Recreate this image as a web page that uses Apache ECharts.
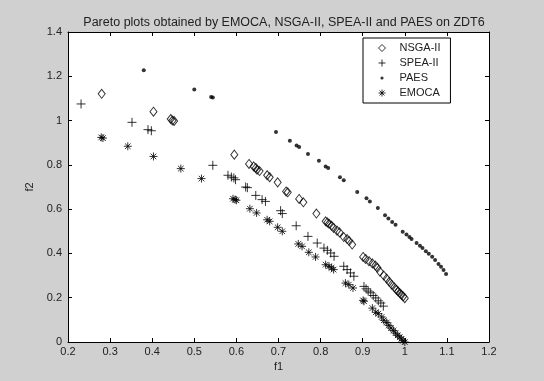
<!DOCTYPE html>
<html lang="en">
<head>
    <meta charset="utf-8"/>
    <title>Pareto plots on ZDT6</title>
    <script src="https://cdn.jsdelivr.net/npm/echarts@6/dist/echarts.min.js"></script>
</head>
<style>
    html, body { margin: 0; padding: 0; background: #d0d0d0; }
    #main { width: 544px; height: 381px; }
</style>
<body>
<div id="main"></div>
<script>
    // points, [f1, f2]
    var nsga2 = [
        [0.280, 1.121], [0.403, 1.040], [0.444, 1.007], [0.448, 1.000], [0.452, 0.998],
        [0.595, 0.846], [0.630, 0.804], [0.641, 0.793], [0.646, 0.786], [0.649, 0.778], [0.655, 0.772],
        [0.673, 0.753], [0.679, 0.744], [0.698, 0.721], [0.718, 0.680], [0.722, 0.676],
        [0.749, 0.646], [0.759, 0.631], [0.790, 0.580],
        [0.812, 0.545], [0.816, 0.540], [0.820, 0.534], [0.826, 0.525], [0.831, 0.515], [0.839, 0.503], [0.845, 0.495],
        [0.855, 0.474], [0.863, 0.465], [0.868, 0.456], [0.875, 0.440],
        [0.901, 0.384], [0.907, 0.375], [0.915, 0.365], [0.923, 0.355], [0.930, 0.345], [0.935, 0.335], [0.941, 0.318],
        [0.950, 0.300], [0.957, 0.286], [0.963, 0.272], [0.969, 0.259], [0.975, 0.247], [0.980, 0.236],
        [0.984, 0.228], [0.988, 0.221], [0.992, 0.213], [0.996, 0.206], [1.000, 0.198]
    ];
    var spea2 = [
        [0.231, 1.075], [0.352, 0.992], [0.390, 0.959], [0.398, 0.954],
        [0.544, 0.798], [0.580, 0.753], [0.588, 0.745], [0.594, 0.741], [0.598, 0.733],
        [0.622, 0.700], [0.626, 0.697], [0.646, 0.662], [0.661, 0.643], [0.669, 0.635],
        [0.705, 0.593], [0.709, 0.580], [0.742, 0.525], [0.770, 0.477], [0.792, 0.447],
        [0.808, 0.424], [0.816, 0.414], [0.824, 0.402], [0.832, 0.387],
        [0.855, 0.342], [0.863, 0.327], [0.871, 0.312], [0.879, 0.297],
        [0.903, 0.251], [0.908, 0.240], [0.913, 0.230], [0.919, 0.222], [0.925, 0.210],
        [0.931, 0.199], [0.937, 0.186], [0.943, 0.176], [0.949, 0.162]
    ];
    var paes = [
        [0.380, 1.227], [0.500, 1.140], [0.540, 1.107], [0.544, 1.104],
        [0.694, 0.948], [0.727, 0.909], [0.743, 0.887], [0.749, 0.881], [0.770, 0.849], [0.796, 0.819],
        [0.812, 0.793], [0.818, 0.786], [0.846, 0.744], [0.855, 0.730], [0.887, 0.677], [0.909, 0.649],
        [0.917, 0.635], [0.936, 0.605], [0.953, 0.572], [0.961, 0.558], [0.970, 0.542], [0.978, 0.530],
        [0.995, 0.498], [1.004, 0.485], [1.011, 0.474], [1.016, 0.465], [1.028, 0.447], [1.036, 0.435],
        [1.042, 0.424], [1.050, 0.410], [1.057, 0.399], [1.065, 0.385], [1.072, 0.370], [1.080, 0.352],
        [1.086, 0.340], [1.092, 0.325], [1.098, 0.307]
    ];
    var emoca = [
        [0.279, 0.924], [0.283, 0.921], [0.342, 0.884], [0.403, 0.838], [0.468, 0.783], [0.517, 0.738],
        [0.592, 0.647], [0.597, 0.643], [0.600, 0.640], [0.632, 0.602], [0.648, 0.583],
        [0.673, 0.552], [0.679, 0.545], [0.698, 0.518], [0.709, 0.500],
        [0.747, 0.443], [0.756, 0.432], [0.772, 0.405], [0.788, 0.384],
        [0.812, 0.349], [0.820, 0.342], [0.826, 0.335], [0.831, 0.327],
        [0.859, 0.266], [0.867, 0.259], [0.877, 0.244],
        [0.901, 0.188], [0.903, 0.184], [0.923, 0.153], [0.931, 0.134], [0.937, 0.128], [0.945, 0.113],
        [0.950, 0.098], [0.957, 0.088], [0.962, 0.075], [0.967, 0.063], [0.973, 0.052], [0.978, 0.040],
        [0.983, 0.030], [0.988, 0.022], [0.992, 0.014], [0.996, 0.006], [1.000, 0.000]
    ];
    var xTicks = [0.2, 0.3, 0.4, 0.5, 0.6, 0.7, 0.8, 0.9, 1, 1.1, 1.2];
    var yTicks = [0, 0.2, 0.4, 0.6, 0.8, 1, 1.2, 1.4];

    var font = 'Liberation Sans';
    var plusPath = 'path://M0,-1L0,1M-1,0L1,0';
    var starPath = 'path://M0,-1L0,1M-1,0L1,0M-0.7,-0.7L0.7,0.7M-0.7,0.7L0.7,-0.7';
    // small dot inside a bigger empty box, so the legend icon stays small
    var dotIcon = 'path://M-2,-2M2,2M0,-0.9A0.9,0.9,0,1,1,0,0.9A0.9,0.9,0,1,1,0,-0.9Z';

    function axis(pos, show) {
        var isX = pos === 'bottom' || pos === 'top';
        var ticks = isX ? xTicks : yTicks;
        return {
            type: 'value',
            position: pos,
            min: ticks[0],
            max: ticks[ticks.length - 1],
            interval: Math.round((ticks[1] - ticks[0]) * 100) / 100,
            axisLine: {show: true, onZero: false, lineStyle: {color: '#000', width: 1}},
            axisTick: {show: true, inside: true, length: 4, lineStyle: {color: '#000'}},
            axisLabel: {
                show: show, color: '#222', fontFamily: font, fontSize: 11,
                margin: isX ? 4 : 6,
                formatter: function (v) { return String(parseFloat(v.toFixed(2))); }
            },
            splitLine: {show: false}
        };
    }

    var chartDom = document.getElementById('main');
    var myChart = echarts.init(chartDom);
    var option;

    var xBottom = axis('bottom', true);
    xBottom.name = 'f1';
    xBottom.nameLocation = 'middle';
    xBottom.nameGap = 19;
    xBottom.nameTextStyle = {color: '#222', fontFamily: font, fontSize: 11};
    var yLeft = axis('left', true);
    yLeft.name = 'f2';
    yLeft.nameLocation = 'middle';
    yLeft.nameGap = 33;
    yLeft.nameTextStyle = {color: '#222', fontFamily: font, fontSize: 11};

    function ser(name, data, symbol, size, filled) {
        return {
            name: name,
            type: 'scatter',
            data: data,
            symbol: symbol,
            symbolSize: size,
            itemStyle: filled
                ? {color: '#000', borderWidth: 0}
                : {color: 'rgba(0,0,0,0)', borderColor: '#000', borderWidth: 1},
            emphasis: {disabled: true},
            silent: true,
            animation: false
        };
    }

    option = {
        backgroundColor: '#d0d0d0',
        animation: false,
        title: {
            text: 'Pareto plots obtained by EMOCA, NSGA-II, SPEA-II and PAES on ZDT6',
            left: 279, top: 11, textAlign: 'center',
            textStyle: {color: '#222', fontFamily: font, fontSize: 12.5, fontWeight: 'normal'}
        },
        grid: {
            left: 68, top: 32, width: 421, height: 310,
            show: true, backgroundColor: '#fff', borderWidth: 0
        },
        legend: {
            orient: 'vertical',
            left: 363, top: 38,
            padding: [3, 10, 3, 15],
            itemGap: 1,
            itemWidth: 7, itemHeight: 7,
            itemStyle: {borderWidth: 1},
            backgroundColor: '#fff',
            borderColor: '#000', borderWidth: 1,
            textStyle: {color: '#222', fontFamily: font, fontSize: 11, lineHeight: 14, padding: [0, 0, 0, 9]},
            data: ['NSGA-II', 'SPEA-II', {name: 'PAES', icon: dotIcon}, 'EMOCA']
        },
        xAxis: [xBottom, axis('top', false)],
        yAxis: [yLeft, axis('right', false)],
        series: [
            ser('NSGA-II', nsga2, 'diamond', [7, 9], false),
            ser('SPEA-II', spea2, plusPath, 9, false),
            ser('PAES', paes, 'circle', 4, true),
            ser('EMOCA', emoca, starPath, 8, false)
        ]
    };
    myChart.setOption(option);
</script>
</body>
</html>
